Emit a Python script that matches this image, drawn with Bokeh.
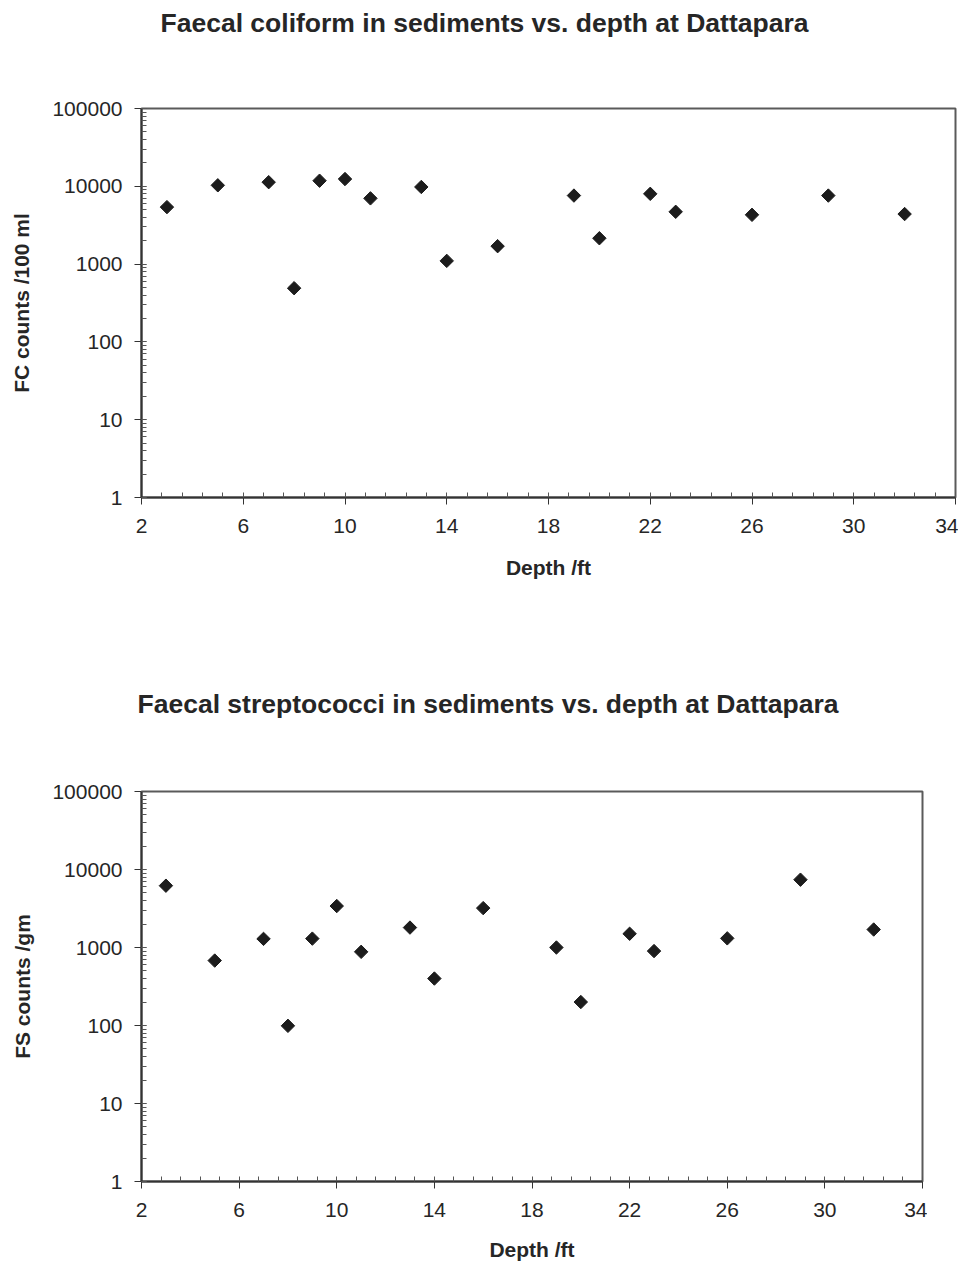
import numpy as np
from bokeh.plotting import figure
from bokeh.models import (Range1d, FixedTicker, LogTicker, Title,
                          NumeralTickFormatter, ColumnDataSource)
from bokeh.layouts import column
from bokeh.embed import file_html
from bokeh.resources import INLINE

# ---- data ----
depth_ft = [3, 5, 7, 8, 9, 10, 11, 13, 14, 16, 19, 20, 22, 23, 26, 29, 32]
fc_counts = [5400, 10300, 11300, 490, 11800, 12400, 7000, 9800, 1100, 1700,
             7600, 2150, 8000, 4700, 4300, 7600, 4400]
fs_counts = [6200, 680, 1290, 99, 1300, 3400, 880, 1800, 400, 3200,
             1000, 200, 1500, 900, 1310, 7400, 1700]

x_ticks = [2, 6, 10, 14, 18, 22, 26, 30, 34]

title_fc = "Faecal coliform in sediments vs. depth at Dattapara"
title_fs = "Faecal streptococci in sediments vs. depth at Dattapara"
ylabel_fc = "FC counts /100 ml"
ylabel_fs = "FS counts /gm"
xlabel = "Depth /ft"

FONT = "Liberation Sans"
TXT = "#262626"
W = 967
FRAME_LEFT = 141


def header(text, standoff, offset):
    f = figure(frame_width=W - FRAME_LEFT, frame_height=4,
               x_range=Range1d(0, 1), y_range=Range1d(0, 1),
               x_axis_location=None, y_axis_location=None,
               output_backend="svg", toolbar_location=None,
               min_border_left=FRAME_LEFT, min_border_right=0,
               min_border_top=0, min_border_bottom=0)
    f.grid.visible = False
    f.outline_line_color = None
    f.border_fill_color = "white"
    f.background_fill_color = "white"
    f.add_layout(Title(text=text, align="left", offset=offset,
                       vertical_align="top", standoff=standoff,
                       text_font=FONT, text_font_size="26.5px",
                       text_font_style="bold", text_color=TXT), "above")
    return f


def make_fig(ylabel, yvals, frame_w, frame_h, b_left, b_top, b_bottom, ax_std,
             xl_std):
    p = figure(frame_width=frame_w, frame_height=frame_h, y_axis_type="log",
               x_range=Range1d(2, 34), y_range=Range1d(1, 100000),
               output_backend="svg", toolbar_location=None,
               min_border_left=b_left, min_border_top=b_top,
               min_border_bottom=b_bottom, min_border_right=5)
    src = ColumnDataSource(dict(x=depth_ft, y=yvals))
    p.scatter("x", "y", source=src, marker="square", angle=np.pi / 4,
              size=9.5, fill_color="#1c1c1c", line_color="#1c1c1c")
    p.xgrid.visible = False
    p.ygrid.visible = False
    p.background_fill_color = "white"
    p.border_fill_color = "white"
    p.outline_line_color = "#5a5a5a"
    p.outline_line_width = 2

    minor_x = list(np.arange(x_ticks[0], x_ticks[-1] + 0.01, 0.8))
    p.xaxis.ticker = FixedTicker(ticks=x_ticks, minor_ticks=minor_x)
    p.yaxis.ticker = LogTicker(num_minor_ticks=10)
    p.yaxis.formatter = NumeralTickFormatter(format="0")
    for ax in (p.xaxis[0], p.yaxis[0]):
        ax.axis_line_color = "#333333"
        ax.axis_line_width = 2
        ax.major_tick_line_color = "#333333"
        ax.minor_tick_line_color = "#555555"
        ax.major_tick_out = 7
        ax.major_tick_in = 0
        ax.minor_tick_out = 0
        ax.minor_tick_in = 5
        ax.major_label_text_font = FONT
        ax.major_label_text_font_size = "21px"
        ax.major_label_text_color = TXT
        ax.axis_label_text_font = FONT
        ax.axis_label_text_font_size = "21px"
        ax.axis_label_text_font_style = "bold"
        ax.axis_label_text_color = TXT
    p.xaxis.major_label_standoff = 14
    p.yaxis.major_label_standoff = 12
    p.xaxis.axis_label = xlabel
    p.yaxis.axis_label = ylabel
    p.yaxis.axis_label_standoff = ax_std
    p.xaxis.axis_label_standoff = xl_std
    return p


h1 = header(title_fc, 15, 160 - FRAME_LEFT)
p1 = make_fig(ylabel_fc, fc_counts, 814, 389, 139, 57, 143, 16, 20)
h2 = header(title_fs, 97, 137 - FRAME_LEFT)
p2 = make_fig(ylabel_fs, fs_counts, 781, 390, 141, 18, 83, 15, 18)

layout = column(h1, p1, h2, p2, spacing=0)
open("out.html", "w").write(file_html(layout, INLINE))
